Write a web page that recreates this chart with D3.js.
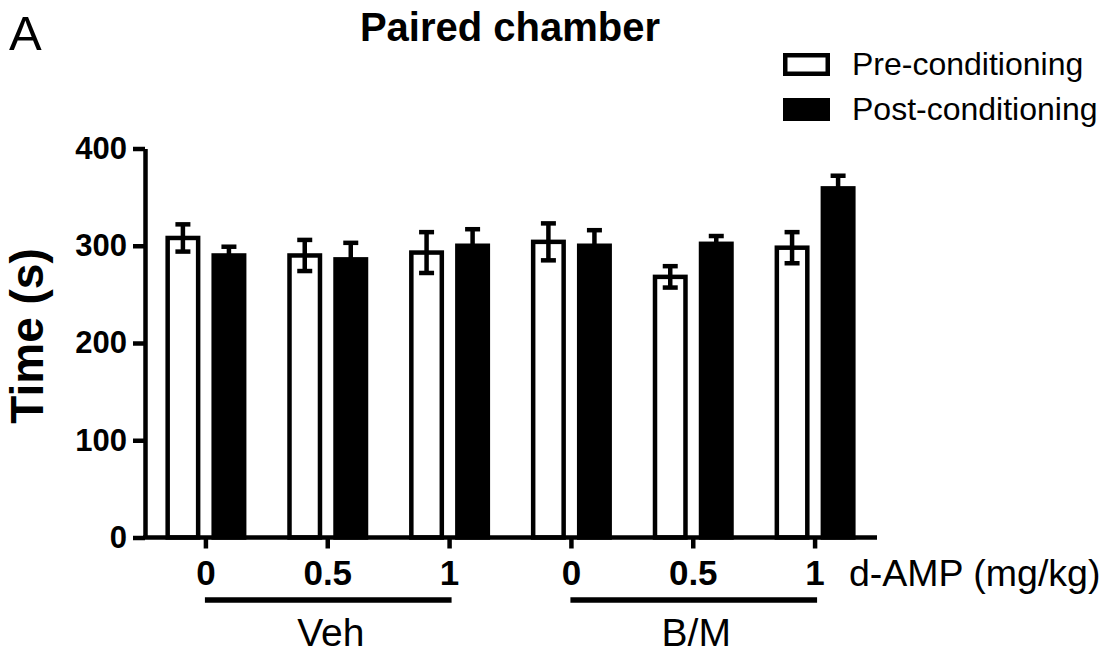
<!DOCTYPE html>
<html>
<head>
<meta charset="utf-8">
<script src="https://cdn.jsdelivr.net/npm/d3@7"></script>
<style>
  body { margin: 0; background: #fff; }
  svg text { font-family: "Liberation Sans", Arial, Helvetica, sans-serif; fill: #000; }
</style>
</head>
<body>
<svg id="chart" width="1118" height="655"></svg>
<script>
// data (mean +/- SEM, seconds)
var categories = ["Veh 0", "Veh 0.5", "Veh 1", "B/M 0", "B/M 0.5", "B/M 1"];
var doseLabels = ["0", "0.5", "1", "0", "0.5", "1"];
var series = ["Pre-conditioning", "Post-conditioning"];
var preMean = [308, 290, 293, 304, 268, 298];
var preSem = [14, 16, 21, 19, 11, 16];
var postMean = [290, 286, 300, 300, 302, 359];
var postSem = [9, 17, 17, 16, 8, 13];
var yTicks = [0, 100, 200, 300, 400];
var groups = [
    { name: "Veh", members: ["Veh 0", "Veh 0.5", "Veh 1"] },
    { name: "B/M", members: ["B/M 0", "B/M 0.5", "B/M 1"] }
];

var svg = d3.select("svg#chart");
var sw = 4.5; // stroke width used everywhere

var x = d3.scaleBand()
    .domain(categories)
    .range([145, 876]);

var x1 = d3.scaleBand()
    .domain(series)
    .range([-40.5, 40.5])
    .paddingInner(0.24);

var y = d3.scaleLinear()
    .domain([0, 400])
    .range([537.5, 148.5]);

function cx(c) { return x(c) + x.bandwidth() / 2; }

var rows = [];
categories.forEach(function(c, i) {
    rows.push({ cat: c, s: series[0], mean: preMean[i], sem: preSem[i], fill: "#fff" });
    rows.push({ cat: c, s: series[1], mean: postMean[i], sem: postSem[i], fill: "#000" });
});

// bars
svg.append("g")
    .selectAll("rect")
    .data(rows)
    .enter().append("rect")
    .attr("x", function(d) { return cx(d.cat) + x1(d.s) + sw / 2; })
    .attr("width", x1.bandwidth() - sw)
    .attr("y", function(d) { return y(d.mean); })
    .attr("height", function(d) { return y(0) - y(d.mean); })
    .attr("fill", function(d) { return d.fill; })
    .attr("stroke", "#000")
    .attr("stroke-width", sw);

// error bars
var err = svg.append("g")
    .selectAll("g")
    .data(rows)
    .enter().append("g")
    .attr("stroke", "#000")
    .attr("stroke-width", sw);

err.append("line")
    .attr("x1", function(d) { return cx(d.cat) + x1(d.s) + x1.bandwidth() / 2; })
    .attr("x2", function(d) { return cx(d.cat) + x1(d.s) + x1.bandwidth() / 2; })
    .attr("y1", function(d) { return y(d.mean - d.sem); })
    .attr("y2", function(d) { return y(d.mean + d.sem); });

[1, -1].forEach(function(sign) {
    err.append("line")
        .attr("x1", function(d) { return cx(d.cat) + x1(d.s) + x1.bandwidth() / 2 - 7.5; })
        .attr("x2", function(d) { return cx(d.cat) + x1(d.s) + x1.bandwidth() / 2 + 7.5; })
        .attr("y1", function(d) { return y(d.mean + sign * d.sem); })
        .attr("y2", function(d) { return y(d.mean + sign * d.sem); });
});

// y axis
var yAxis = svg.append("g")
    .attr("transform", "translate(145,0)")
    .call(d3.axisLeft(y).tickValues(yTicks).tickSize(12).tickSizeOuter(0).tickPadding(6));
yAxis.selectAll("text")
    .attr("font-size", 31)
    .attr("font-weight", "bold")
    .attr("font-family", null);

// x axis
var xAxis = svg.append("g")
    .attr("transform", "translate(0,537.5)")
    .call(d3.axisBottom(x).tickSize(11).tickSizeOuter(0).tickPadding(12)
        .tickFormat(function(d, i) { return doseLabels[i]; }));
xAxis.select(".domain").attr("d", "M143,0H877");
xAxis.selectAll("text")
    .attr("font-size", 35)
    .attr("font-weight", "bold")
    .attr("font-family", null);

[yAxis, xAxis].forEach(function(a) {
    a.selectAll("path, line").attr("stroke", "#000").attr("stroke-width", sw);
});

// group brackets
var grp = svg.append("g")
    .selectAll("g")
    .data(groups)
    .enter().append("g");

grp.append("line")
    .attr("x1", function(d) { return cx(d.members[0]) - 1; })
    .attr("x2", function(d) { return cx(d.members[d.members.length - 1]) + 2; })
    .attr("y1", 600)
    .attr("y2", 600)
    .attr("stroke", "#000")
    .attr("stroke-width", 5.5);

grp.append("text")
    .attr("x", function(d) { return cx(d.members[1]) + 3; })
    .attr("y", 646)
    .attr("text-anchor", "middle")
    .attr("font-size", 39)
    .text(function(d) { return d.name; });

svg.append("text")
    .attr("x", 849)
    .attr("y", 586)
    .attr("font-size", 37.5)
    .text("d-AMP (mg/kg)");

// y label
svg.append("text")
    .attr("transform", "translate(43,336) rotate(-90)")
    .attr("text-anchor", "middle")
    .attr("font-size", 46)
    .attr("font-weight", "bold")
    .text("Time (s)");

// title and panel letter
svg.append("text")
    .attr("x", 510)
    .attr("y", 41)
    .attr("text-anchor", "middle")
    .attr("font-size", 40)
    .attr("font-weight", "bold")
    .text("Paired chamber");

svg.append("text")
    .attr("x", 9)
    .attr("y", 50)
    .attr("font-size", 49)
    .text("A");

// legend
var legend = svg.append("g")
    .selectAll("g")
    .data(series)
    .enter().append("g")
    .attr("transform", function(d, i) { return "translate(783," + (53 + i * 45) + ")"; });

legend.append("rect")
    .attr("x", sw / 2)
    .attr("y", sw / 2)
    .attr("width", 47 - sw)
    .attr("height", 23 - sw)
    .attr("fill", function(d, i) { return i === 0 ? "#fff" : "#000"; })
    .attr("stroke", "#000")
    .attr("stroke-width", sw);

legend.append("text")
    .attr("x", 69)
    .attr("y", 22)
    .attr("font-size", 32)
    .text(function(d) { return d; });
</script>
</body>
</html>
